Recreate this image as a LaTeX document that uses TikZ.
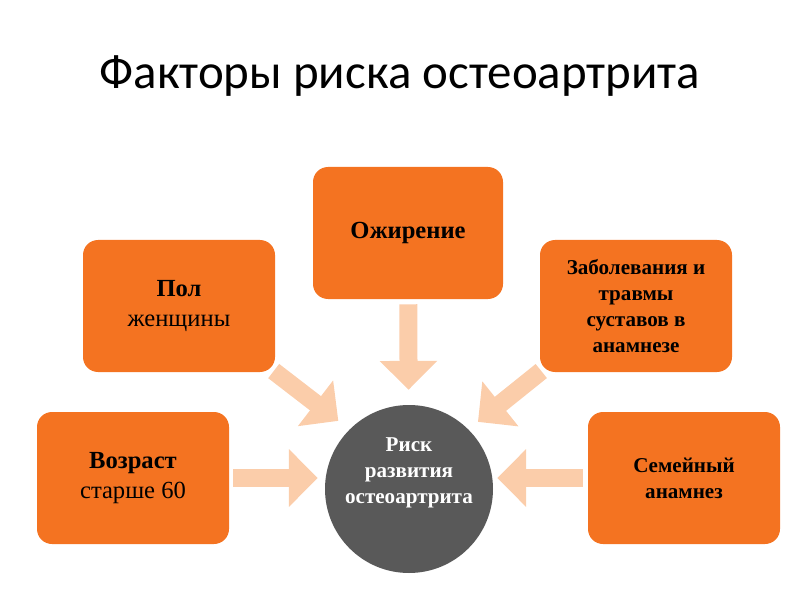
\documentclass[tikz,border=0pt]{standalone}
\usepackage{fontspec}
\setmainfont{Liberation Serif}
\newfontfamily\titlefont{Carlito}
\usetikzlibrary{arrows.meta,positioning}
\definecolor{factororange}{HTML}{F47321}
\definecolor{arrowpeach}{HTML}{FBCDAA}
\definecolor{riskgray}{HTML}{595959}

\begin{document}
\begin{tikzpicture}[
    factor/.style={fill=factororange, rounded corners=0.375cm, minimum width=4.8cm, minimum height=3.3cm, align=center, font=\bfseries\fontsize{15}{18.4}\selectfont},
    bigfactor/.style={factor, font=\mdseries\fontsize{17.5}{21.3}\selectfont},
    risk/.style={circle, fill=riskgray, minimum size=4.2cm},
    risktext/.style={text=white, align=center, font=\bfseries\fontsize{15}{18.4}\selectfont},
    flow/.style={draw=arrowpeach, line width=0.45cm, -{Triangle[length=0.72cm, width=1.4cm]}}
]
\useasboundingbox (0,0) rectangle (20,15);

\node[font=\titlefont\fontsize{34.8}{40}\selectfont] (title) at (10,13.1) {Факторы риска остеоартрита};

\node[risk] (risk) at (10.225,2.775) {};
\node[risktext] (risklabel) at ([yshift=0.4cm]risk.center) {Риск\\развития\\остеоартрита};

\node[bigfactor, minimum width=4.75cm] (obesity) at (10.2,9.175) {\textbf{Ожирение}};
\node[bigfactor] (sex) at (4.475,7.35) {\textbf{Пол}\\женщины};
\node[bigfactor] (age) at (3.325,3.05) {\textbf{Возраст}\\старше 60};
\node[factor] (injury) at (15.9,7.35) {Заболевания и\\травмы\\суставов в\\анамнезе};
\node[factor] (family) at (17.1,3.05) {Семейный\\анамнез};

\draw[flow, shorten <=0.125cm, shorten >=0.375cm] (obesity) -- (risk);
\draw[flow, shorten <=-0.05cm, shorten >=0.35cm] (sex.south east) -- (risk.north west);
\draw[flow, shorten <=-0.05cm, shorten >=0.3cm] (injury.south west) -- (risk.north east);
\draw[flow, shorten <=0.1cm, shorten >=0.175cm] (age.east) -- (age.east -| risk.west);
\draw[flow, shorten <=0.125cm, shorten >=0.1cm] (family.west) -- (family.west -| risk.east);

\end{tikzpicture}
\end{document}
